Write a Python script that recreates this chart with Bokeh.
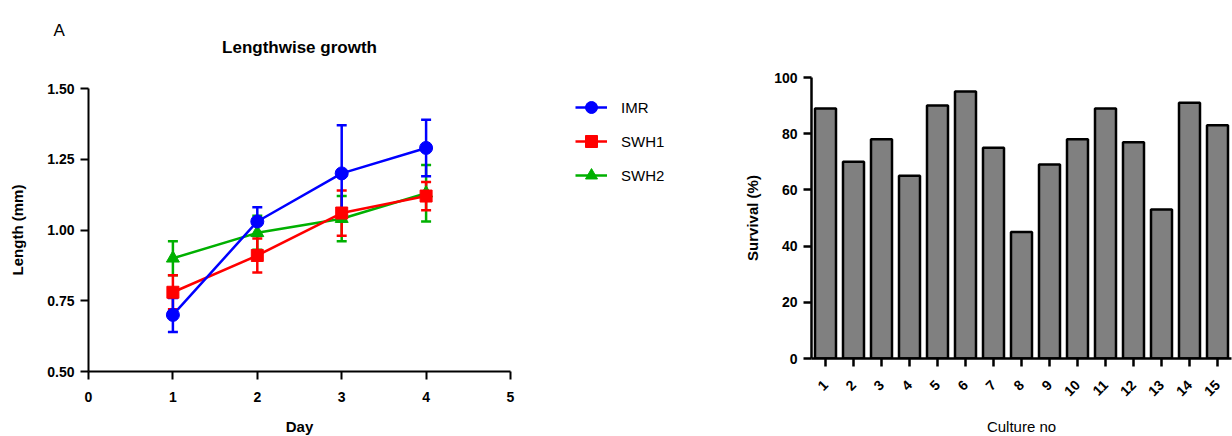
import math
from bokeh.plotting import figure
from bokeh.layouts import row, column
from bokeh.models import (ColumnDataSource, Whisker, TeeHead, Legend, LegendItem,
                          FixedTicker, Label, FactorRange, Range1d, NumeralTickFormatter)
from bokeh.embed import file_html
from bokeh.resources import INLINE

# ---------------- data ----------------
days = [1, 2, 3, 4]
imr = [0.70, 1.03, 1.20, 1.29]
imr_err = [0.06, 0.05, 0.17, 0.10]
swh1 = [0.78, 0.91, 1.06, 1.12]
swh1_err = [0.06, 0.06, 0.08, 0.05]
swh2 = [0.90, 0.99, 1.04, 1.13]
swh2_err = [0.06, 0.06, 0.08, 0.10]
series_names = ["IMR", "SWH1", "SWH2"]

cultures = [str(i) for i in range(1, 16)]
survival = [89, 70, 78, 65, 90, 95, 75, 45, 69, 78, 89, 77, 53, 91, 83]

x_ticks = [0, 1, 2, 3, 4, 5]
y_ticks = [0.50, 0.75, 1.00, 1.25, 1.50]
surv_ticks = [0, 20, 40, 60, 80, 100]

FONT = "Liberation Sans"
H = 436
LEFT_W, HEADER_H = 720, 60
ROW_H = H - HEADER_H

colors = {"IMR": "#0000FF", "SWH1": "#FF0000", "SWH2": "#00B000"}
markers = {"IMR": "circle", "SWH1": "square", "SWH2": "triangle"}
msize = {"IMR": 13, "SWH1": 12, "SWH2": 13}
vals = {"IMR": (imr, imr_err), "SWH1": (swh1, swh1_err), "SWH2": (swh2, swh2_err)}


def bare(width, height, flip=False):
    yr = Range1d(height, 0) if flip else Range1d(0, height)
    f = figure(width=width, height=height, x_range=Range1d(0, width), y_range=yr,
               x_axis_location=None, y_axis_location=None,
               min_border=0, output_backend="svg", toolbar_location=None)
    f.outline_line_color = None
    f.grid.visible = False
    return f


# ---------------- header (panel letter + title) ----------------
header = bare(LEFT_W, HEADER_H, flip=True)
header.add_layout(Label(x=53, y=30, text="A", text_align="left",
                        text_baseline="alphabetic", text_font=FONT,
                        text_font_size="17px", text_color="black"))
header.add_layout(Label(x=299, y=47, text="Lengthwise growth", text_align="center",
                        text_baseline="middle", text_font=FONT, text_font_size="17px",
                        text_font_style="bold", text_color="black"))

# ---------------- left chart ----------------
p1 = figure(frame_width=422, frame_height=283,
            min_border_left=88, min_border_right=20,
            min_border_top=28, min_border_bottom=65,
            x_range=Range1d(0, 5), y_range=Range1d(0.5, 1.5),
            output_backend="svg", toolbar_location=None)
p1.outline_line_color = None
p1.grid.visible = False
p1.xaxis.ticker = FixedTicker(ticks=x_ticks)
p1.yaxis.ticker = FixedTicker(ticks=y_ticks)
p1.yaxis.formatter = NumeralTickFormatter(format="0.00")
for ax in (p1.xaxis[0], p1.yaxis[0]):
    ax.axis_line_width = 2
    ax.major_tick_line_width = 2
    ax.major_tick_out = 8
    ax.major_tick_in = 0
    ax.minor_tick_line_color = None
    ax.major_label_text_font = FONT
    ax.major_label_text_font_size = "14px"
    ax.major_label_text_font_style = "bold"
    ax.major_label_text_color = "black"
    ax.axis_label_text_font = FONT
    ax.axis_label_text_font_size = "15px"
    ax.axis_label_text_font_style = "bold"
    ax.axis_label_text_color = "black"
p1.xaxis.axis_label = "Day"
p1.yaxis.axis_label = "Length (mm)"
p1.xaxis.major_label_standoff = 12
p1.xaxis.axis_label_standoff = 13
p1.yaxis.major_label_standoff = 6
p1.yaxis.axis_label_standoff = 18

for name in ["SWH2", "SWH1", "IMR"]:
    y, e = vals[name]
    src = ColumnDataSource(dict(x=days, y=y,
                                lo=[a - b for a, b in zip(y, e)],
                                hi=[a + b for a, b in zip(y, e)]))
    c = colors[name]
    p1.add_layout(Whisker(base="x", lower="lo", upper="hi", source=src,
                          line_color=c, line_width=2.5,
                          upper_head=TeeHead(size=10, line_color=c, line_width=2.5),
                          lower_head=TeeHead(size=10, line_color=c, line_width=2.5)))
    p1.line("x", "y", source=src, line_color=c, line_width=2.5)
    p1.scatter("x", "y", source=src, marker=markers[name], size=msize[name],
               fill_color=c, line_color=c)

# ---------------- legend (separate strip right of the left chart) ----------------
P1_W = 88 + 422 + 20
LEG_W = LEFT_W - P1_W
legfig = bare(LEG_W, ROW_H)
nan = float("nan")
leg_items = []
for name in series_names:
    c = colors[name]
    ln = legfig.line(x=[nan], y=[nan], line_color=c, line_width=2.5)
    sc = legfig.scatter(x=[nan], y=[nan], marker=markers[name], size=msize[name],
                        fill_color=c, line_color=c)
    leg_items.append(LegendItem(label=name, renderers=[ln, sc]))
legend = Legend(items=leg_items, location=(575 - P1_W, 180),
                orientation="vertical",
                glyph_width=32, glyph_height=30, spacing=4, label_standoff=14,
                padding=0, margin=0, border_line_color=None,
                background_fill_alpha=0, label_text_color="black",
                label_text_font=FONT, label_text_font_size="15px")
legfig.add_layout(legend, "center")

# ---------------- right chart ----------------
p2 = figure(frame_width=420, frame_height=281,
            min_border_left=91, min_border_right=1,
            min_border_top=77, min_border_bottom=78,
            x_range=FactorRange(*cultures), y_range=Range1d(0, 100),
            output_backend="svg", toolbar_location=None)
p2.outline_line_color = None
p2.grid.visible = False
p2.vbar(x=cultures, top=survival, width=0.75, bottom=0,
        fill_color="#808080", line_color="black", line_width=2.5)
p2.yaxis.ticker = FixedTicker(ticks=surv_ticks)
for ax in (p2.xaxis[0], p2.yaxis[0]):
    ax.axis_line_width = 2.5
    ax.major_tick_line_width = 2.5
    ax.major_tick_out = 8
    ax.major_tick_in = 0
    ax.minor_tick_line_color = None
    ax.major_label_text_font = FONT
    ax.major_label_text_font_size = "14px"
    ax.major_label_text_font_style = "bold"
    ax.major_label_text_color = "black"
    ax.axis_label_text_font = FONT
    ax.axis_label_text_font_size = "15px"
    ax.axis_label_text_color = "black"
p2.xaxis.major_label_orientation = math.pi / 4
p2.xaxis.major_label_standoff = 16
p2.xaxis.axis_label = "Culture no"
p2.xaxis.axis_label_text_font_style = "normal"
p2.xaxis.axis_label_standoff = 14
p2.yaxis.axis_label = "Survival (%)"
p2.yaxis.axis_label_text_font_style = "bold"
p2.yaxis.major_label_standoff = 6
p2.yaxis.axis_label_standoff = 10

layout = row(column(header, row(p1, legfig)), p2)
open("out.html", "w").write(file_html(layout, INLINE))
